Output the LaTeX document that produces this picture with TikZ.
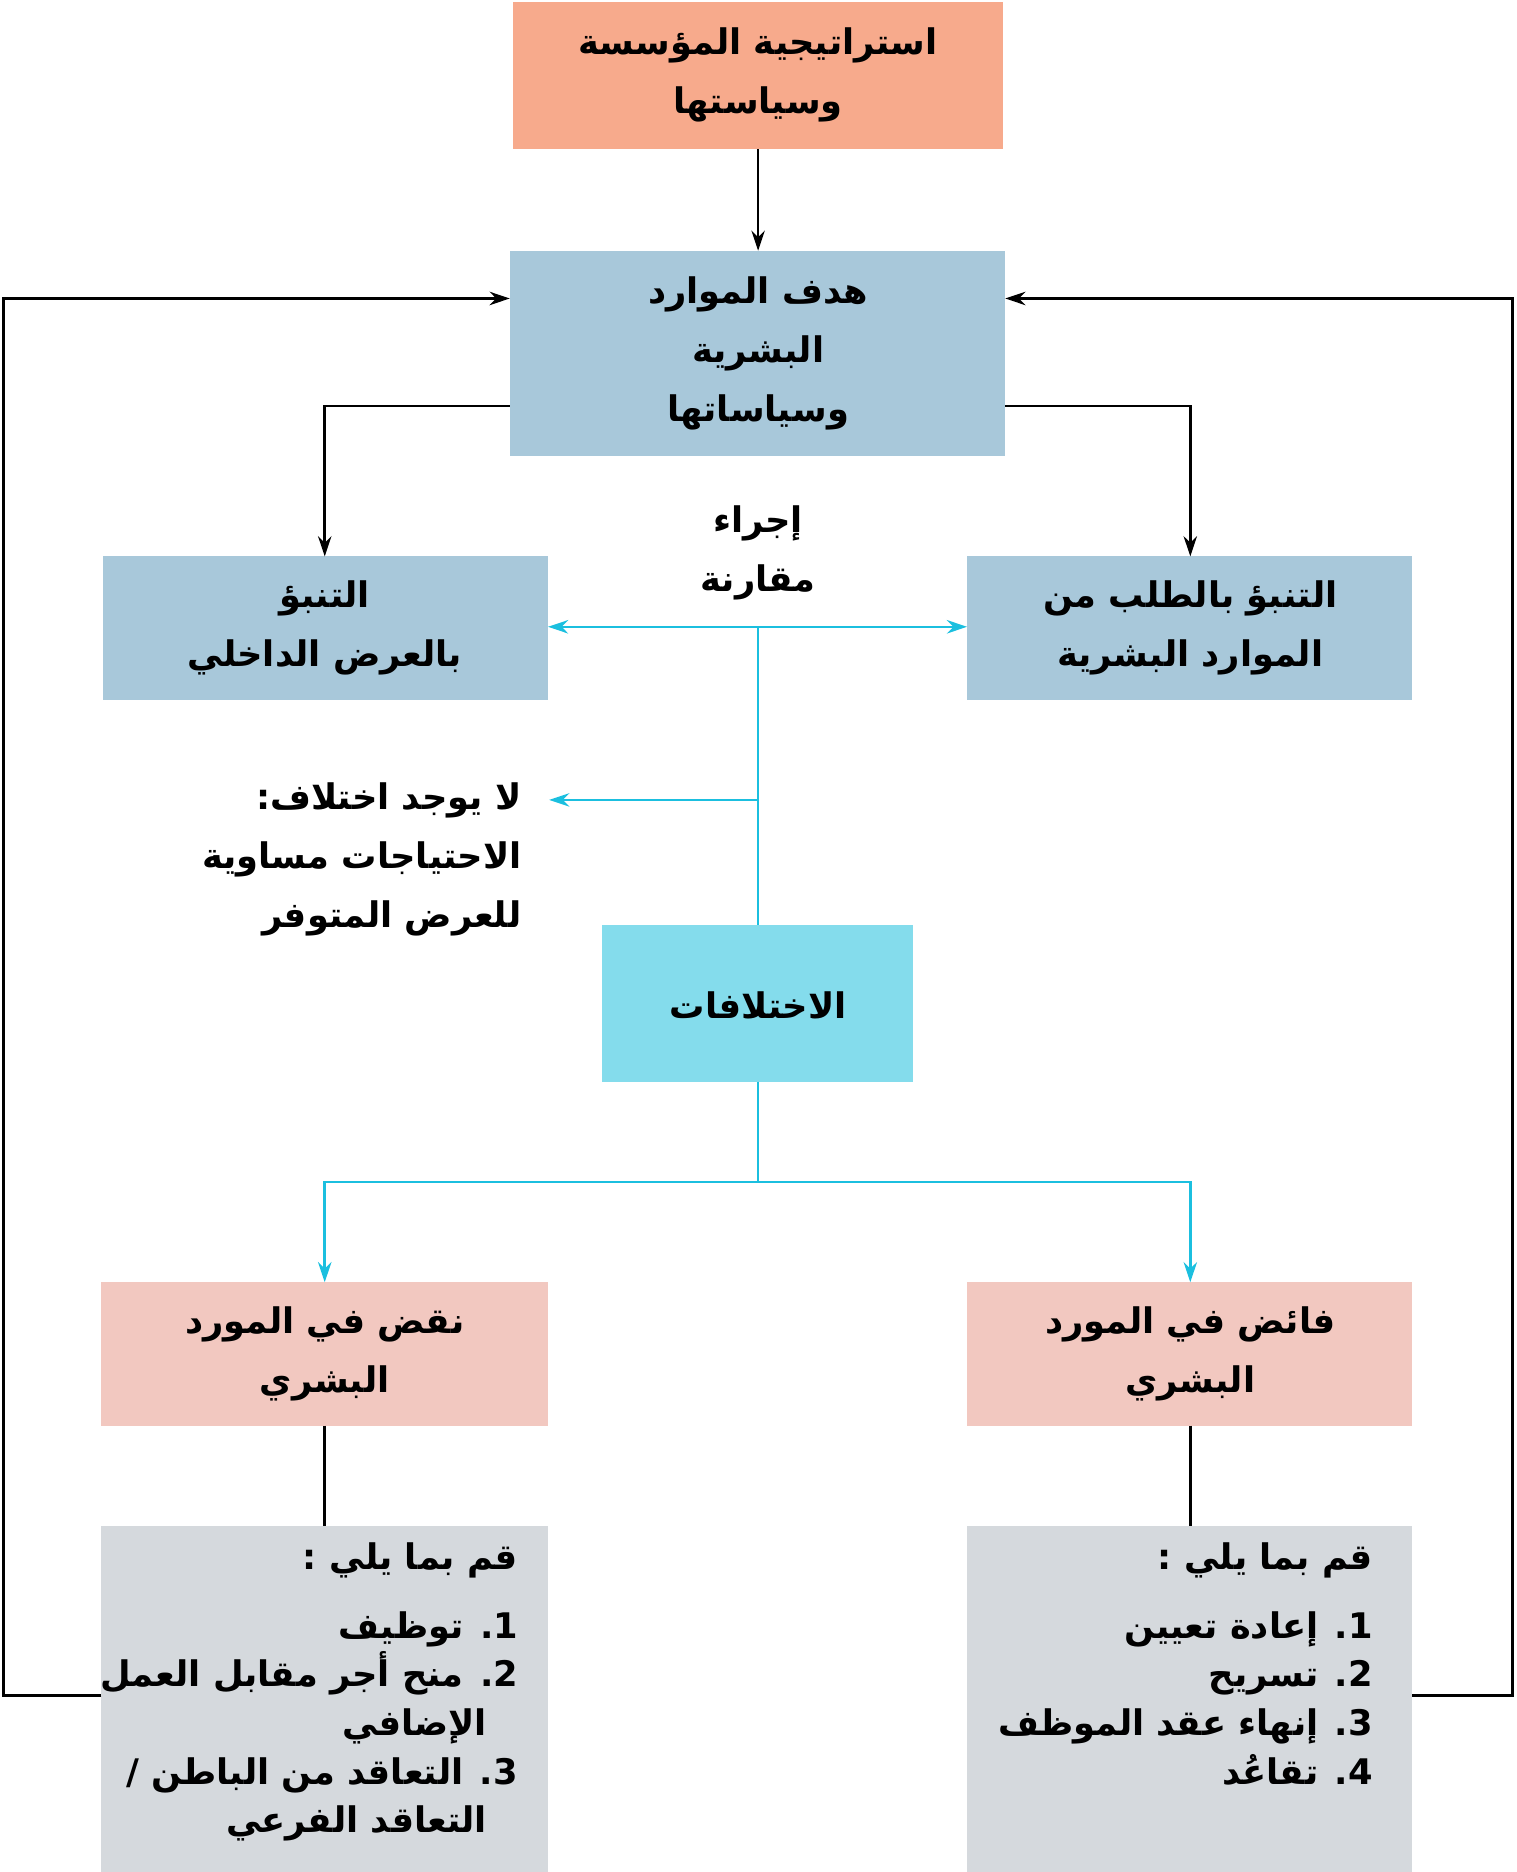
\documentclass[tikz,border=0pt]{standalone}
\usepackage{fontspec}
\newfontfamily\arfont[Script=Arabic]{DejaVu Sans}
\usetikzlibrary{arrows.meta}
\TeXXeTstate=1
\newcommand{\ar}[1]{\beginR #1\endR}
\newcommand{\indl}[1]{\ar{#1}\rule{1.3cm}{0pt}}
\definecolor{salmon}{HTML}{F7AA8C}
\definecolor{bbox}{HTML}{A8C8DA}
\definecolor{cbox}{HTML}{84DCEC}
\definecolor{pbox}{HTML}{F2C8C0}
\definecolor{gbox}{HTML}{D5D9DD}
\definecolor{cyanl}{HTML}{1BBFDF}
\begin{document}
\begin{tikzpicture}[x=0.05cm,y=-0.05cm,
 box/.style={draw=none,inner sep=0pt,font=\arfont\bfseries\fontsize{42}{70}\selectfont,align=center},
 txt/.style={inner sep=0pt,font=\arfont\bfseries\fontsize{42}{70}\selectfont},
 blk/.style={line width=3pt,-{Stealth[length=24pt,width=16pt]}},
 cy/.style={cyanl,line width=3pt,-{Stealth[length=24pt,width=16pt]}},
 cyl/.style={cyanl,line width=3pt},
 bl/.style={line width=3pt}]
\useasboundingbox (0,0) rectangle (1270,1568);
\fill[salmon] (430,2) rectangle (840,125);
\node[box] (top) at (635,63) {\ar{استراتيجية المؤسسة}\\\ar{وسياستها}};
\coordinate (topb) at (635,125);
\fill[bbox] (427,210) rectangle (842,382);
\node[box] (goal) at (635,296) {\ar{هدف الموارد}\\\ar{البشرية}\\\ar{وسياساتها}};
\coordinate (goalt) at (635,210);
\fill[bbox] (86,466) rectangle (459,586);
\node[box] (sup) at (272,526) {\ar{التنبؤ}\\\ar{بالعرض الداخلي}};
\fill[bbox] (810,466) rectangle (1183,586);
\node[box] (dem) at (997,526) {\ar{التنبؤ بالطلب من}\\\ar{الموارد البشرية}};
\fill[cbox] (504,775) rectangle (765,906);
\node[box] (diff) at (635,842) {\ar{الاختلافات}};
\fill[pbox] (85,1074) rectangle (459,1194);
\node[box] (short) at (272,1134) {\ar{نقض في المورد}\\\ar{البشري}};
\fill[pbox] (810,1074) rectangle (1183,1194);
\node[box] (surp) at (997,1134) {\ar{فائض في المورد}\\\ar{البشري}};
\fill[gbox] (85,1278) rectangle (459,1568);
\fill[gbox] (810,1278) rectangle (1183,1568);
\node[txt,anchor=north east,align=right] (la) at (434,1292) {\ar{قم بما يلي :}\\[12pt]\ar{1. توظيف}\\[-12pt]\ar{2. منح أجر مقابل العمل}\\[-12pt]\indl{الإضافي}\\[-12pt]\ar{3. التعاقد من الباطن /}\\[-12pt]\indl{التعاقد الفرعي}};
\node[txt,anchor=north east,align=right] (ra) at (1150,1292) {\ar{قم بما يلي :}\\[12pt]\ar{1. إعادة تعيين}\\[-12pt]\ar{2. تسريح}\\[-12pt]\ar{3. إنهاء عقد الموظف}\\[-12pt]\ar{4. تقاعُد}};
\node[txt,align=center] (cmp) at (635,463) {\ar{إجراء}\\\ar{مقارنة}};
\node[txt,anchor=east,align=right] (nod) at (437,720) {\ar{لا يوجد اختلاف:}\\\ar{الاحتياجات مساوية}\\\ar{للعرض المتوفر}};
\coordinate (nodp) at (460,670);
\draw[blk] (topb) -- (goalt);
\draw[blk] (427,340) -| (272,466);
\draw[blk] (842,340) -| (997,466);
\draw[bl] (272,1194) -- (272,1278);
\draw[bl] (997,1194) -- (997,1278);
\draw[blk] (85,1420) -- (3,1420) -- (3,250) -- (427,250);
\draw[blk] (1183,1420) -- (1267,1420) -- (1267,250) -- (842,250);
\draw[cy] (635,525) -- (459,525);
\draw[cy] (635,525) -- (810,525);
\draw[cyl] (635,525) -- (635,775);
\draw[cy] (635,670) -- (nodp);
\draw[cyl] (635,906) -- (635,990);
\draw[cy] (635,990) -| (272,1074);
\draw[cy] (635,990) -| (997,1074);
\end{tikzpicture}
\end{document}
